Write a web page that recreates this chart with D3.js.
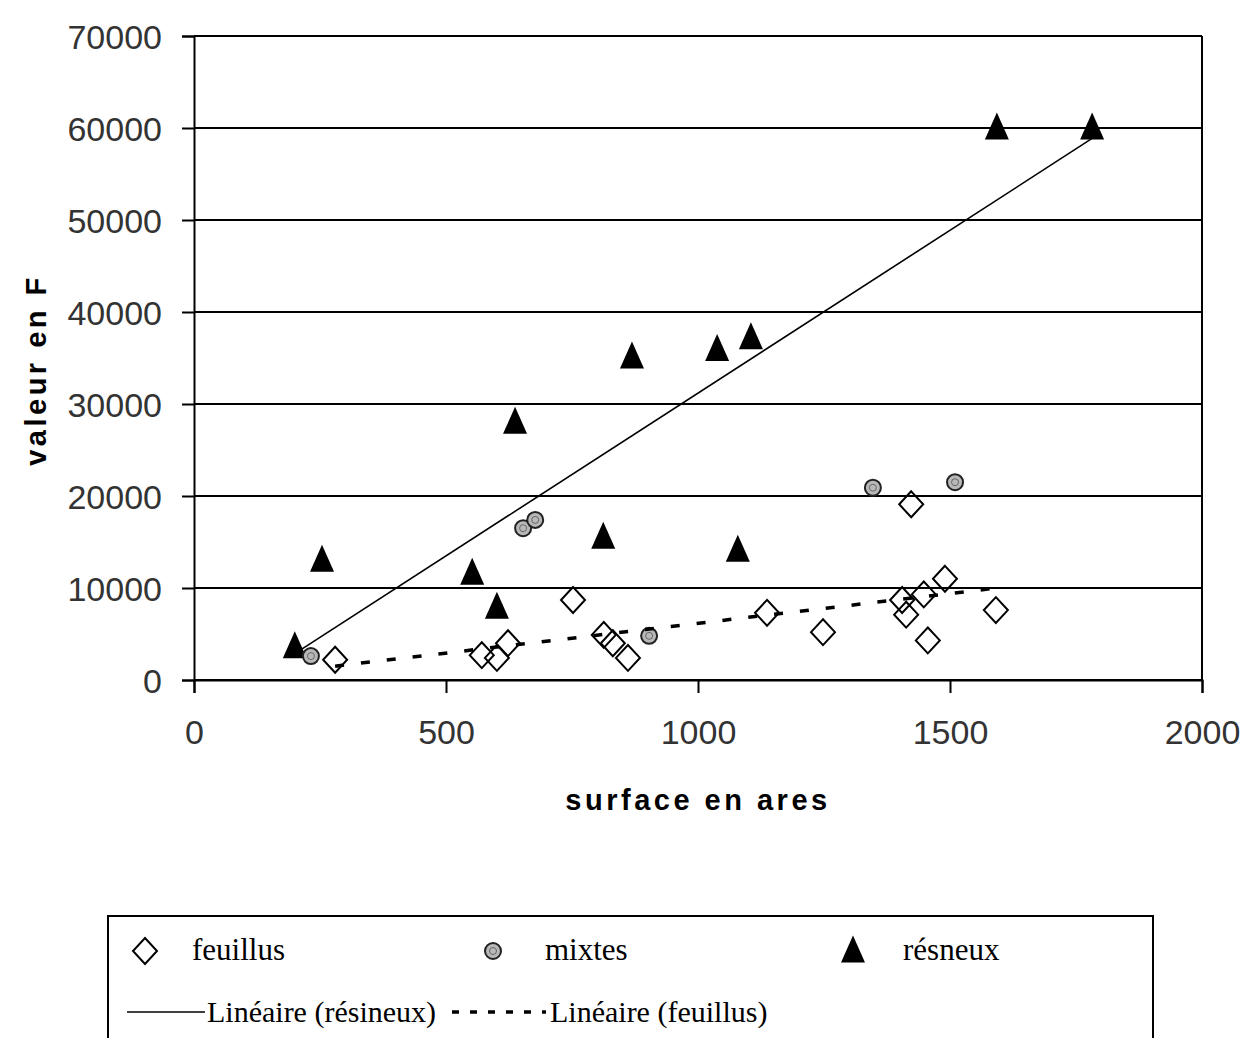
<!DOCTYPE html>
<html><head><meta charset="utf-8">
<script src="https://cdn.jsdelivr.net/npm/d3@7"></script>
<style>body{margin:0;background:#fff}svg{display:block}</style>
</head><body>
<svg id="chart" width="1241" height="1038"></svg>
<script>
// ---- data ----
const feuillusX = [280, 571, 601, 623, 752, 813, 831, 861, 1137, 1248, 1423, 1405, 1413, 1448, 1490, 1456, 1591];
const feuillusY = [2200, 2700, 2400, 4000, 8700, 4900, 4000, 2400, 7300, 5200, 19100, 8700, 7100, 9300, 11000, 4300, 7600];
const mixtesX = [232, 653, 677, 903, 1347, 1510];
const mixtesY = [2600, 16500, 17400, 4800, 20900, 21500];
const resineuxX = [200, 254, 552, 601, 637, 812, 869, 1038, 1079, 1105, 1593, 1782];
const resineuxY = [3600, 13000, 11600, 7900, 28000, 15500, 35100, 35900, 14100, 37200, 60000, 60000];
const xTicks = [0, 500, 1000, 1500, 2000];
const yTicks = [0, 10000, 20000, 30000, 40000, 50000, 60000, 70000];
const legendRow1 = ["feuillus", "mixtes", "résneux"];
const legendRow2 = ["Linéaire (résineux)", "Linéaire (feuillus)"];
const xTitle = "surface en ares";
const yTitle = "valeur en F";

const svg = d3.select("#chart");
const L = 194, R = 1202, T = 36, B = 680;
const x = d3.scaleLinear().domain([0, 2000]).range([L, R]);
const y = d3.scaleLinear().domain([0, 70000]).range([B, T]);

// gridlines
svg.append("g").selectAll("line").data(yTicks).join("line")
  .attr("x1", L).attr("x2", R).attr("y1", d => y(d)).attr("y2", d => y(d))
  .attr("stroke", "#000").attr("stroke-width", 2);
// right border
svg.append("line").attr("x1", R).attr("x2", R).attr("y1", T).attr("y2", B)
  .attr("stroke", "#000").attr("stroke-width", 2);

// axes
const yAxis = d3.axisLeft(y).tickValues(yTicks).tickSize(12).tickPadding(20).tickFormat(d3.format("d"));
const gy = svg.append("g").attr("transform", `translate(${L},0)`).call(yAxis);
const xAxis = d3.axisBottom(x).tickValues(xTicks).tickSize(13).tickPadding(27).tickFormat(d3.format("d"));
const gx = svg.append("g").attr("transform", `translate(0,${B})`).call(xAxis);
[gx, gy].forEach(g => {
  g.select(".domain").attr("stroke", "#000").attr("stroke-width", 2);
  g.selectAll(".tick line").attr("stroke", "#000").attr("stroke-width", 2);
  g.selectAll(".tick text").attr("font-family", "'Liberation Sans', Arial, sans-serif")
    .attr("font-size", 34).attr("fill", "#333");
});
gy.selectAll(".tick text").attr("dy", "0.36em");
gx.selectAll(".tick text").attr("dy", "0.71em");

// axis titles
svg.append("text").attr("x", 698).attr("y", 810).attr("text-anchor", "middle")
  .attr("font-family", "'Liberation Sans', Arial, sans-serif").attr("font-weight", "bold")
  .attr("font-size", 29).attr("letter-spacing", 3.5).text(xTitle);
svg.append("text").attr("transform", "translate(46,370) rotate(-90)").attr("text-anchor", "middle")
  .attr("font-family", "'Liberation Sans', Arial, sans-serif").attr("font-weight", "bold")
  .attr("font-size", 29).attr("letter-spacing", 3.5).text(yTitle);

// regression helper (Excel linear trendline)
function lin(xs, ys) {
  const mx = d3.mean(xs), my = d3.mean(ys);
  let sxy = 0, sxx = 0;
  xs.forEach((v, i) => { sxy += (v - mx) * (ys[i] - my); sxx += (v - mx) * (v - mx); });
  const b = sxy / sxx, a = my - b * mx;
  const x0 = d3.min(xs), x1 = d3.max(xs);
  return [[x0, a + b * x0], [x1, a + b * x1]];
}
const line = d3.line().x(d => x(d[0])).y(d => y(d[1]));

// markers
const diamond = s => `M0,${-s*1.08}L${s},0L0,${s*1.08}L${-s},0Z`;
const tri = s => `M0,${-s*1.3}L${s},${s*0.95}L${-s},${s*0.95}Z`;

function drawDiamond(g, cx, cy) {
  g.append("path").attr("d", diamond(12)).attr("transform", `translate(${cx},${cy})`)
    .attr("fill", "none").attr("stroke", "#000").attr("stroke-width", 2);
}
function drawMixte(g, cx, cy) {
  g.append("circle").attr("cx", cx).attr("cy", cy).attr("r", 8)
    .attr("fill", "#b8b8b8").attr("stroke", "#222").attr("stroke-width", 2);
  g.append("circle").attr("cx", cx).attr("cy", cy).attr("r", 3.5)
    .attr("fill", "none").attr("stroke", "#666").attr("stroke-width", 1);
}
function drawTri(g, cx, cy) {
  g.append("path").attr("d", tri(12)).attr("transform", `translate(${cx},${cy})`)
    .attr("fill", "#000");
}

const gm = svg.append("g");
resineuxX.forEach((v, i) => drawTri(gm, x(v), y(resineuxY[i])));
mixtesX.forEach((v, i) => drawMixte(gm, x(v), y(mixtesY[i])));
feuillusX.forEach((v, i) => drawDiamond(gm, x(v), y(feuillusY[i])));

// trendlines
svg.append("path").attr("d", line(lin(resineuxX, resineuxY)))
  .attr("fill", "none").attr("stroke", "#000").attr("stroke-width", 1.6);
svg.append("path").attr("d", line(lin(feuillusX, feuillusY)))
  .attr("fill", "none").attr("stroke", "#000").attr("stroke-width", 3.5)
  .attr("stroke-dasharray", "9,17");

// legend
const lg = svg.append("g");
lg.append("path").attr("d", "M108,1038V916H1153V1038")
  .attr("fill", "none").attr("stroke", "#000").attr("stroke-width", 2);
const lf = "'Liberation Serif', 'Times New Roman', serif";
drawDiamond(lg, 145, 951);
drawMixte(lg, 493, 951);
drawTri(lg, 853, 951);
const row1x = [192, 545, 903];
legendRow1.forEach((t, i) => lg.append("text").attr("x", row1x[i]).attr("y", 960)
  .attr("font-family", lf).attr("font-size", 31).attr("fill", "#000").text(t));
lg.append("line").attr("x1", 127).attr("x2", 205).attr("y1", 1012).attr("y2", 1012)
  .attr("stroke", "#000").attr("stroke-width", 1.6);
lg.append("line").attr("x1", 452).attr("x2", 546).attr("y1", 1012).attr("y2", 1012)
  .attr("stroke", "#000").attr("stroke-width", 3.5).attr("stroke-dasharray", "7,11");
const row2x = [207, 550];
legendRow2.forEach((t, i) => lg.append("text").attr("x", row2x[i]).attr("y", 1022)
  .attr("font-family", lf).attr("font-size", 30).attr("fill", "#000").text(t));
</script>
</body></html>
